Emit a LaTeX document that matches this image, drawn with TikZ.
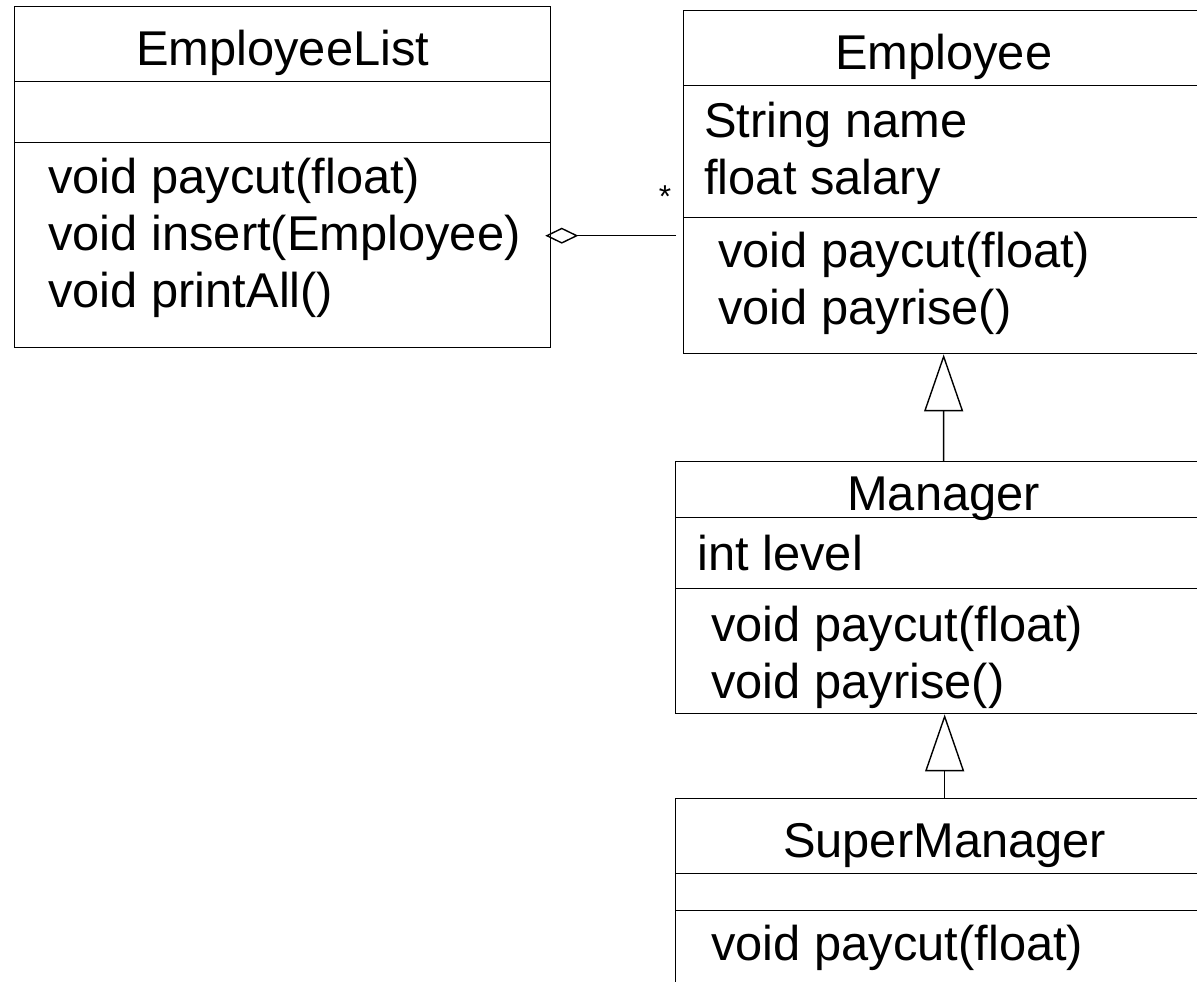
\documentclass[tikz,border=0pt]{standalone}
\usepackage{fontspec}
\setmainfont{Liberation Sans}
\usetikzlibrary{arrows.meta}

\newcommand{\umlfont}{\fontsize{27.8}{32.4}\selectfont}

\tikzset{
  classpart/.style={draw, line width=0.8pt, anchor=north west, inner sep=0pt, font=\umlfont},
  classname/.style={classpart, text height=24pt, text depth=0pt},
  members/.style={anchor=west, align=left, inner sep=0pt, font=\umlfont},
  aggr/.style={line width=0.8pt, -{Diamond[open, length=0.66cm, width=0.32cm]}},
  inherit/.style={line width=0.8pt, -{Triangle[open, length=1.14cm, width=0.78cm]}}
}

\begin{document}
\begin{tikzpicture}[x=0.02cm, y=-0.02cm]
\useasboundingbox (0,0) rectangle (1197,982);
\clip (0,0) rectangle (1197,982);

% EmployeeList
\node[classname, minimum width=10.72cm, minimum height=1.5cm] (listname) at (14,6) {EmployeeList};
\node[classpart, minimum width=10.72cm, minimum height=1.22cm] (listattr) at (14,81) {};
\node[classpart, minimum width=10.72cm, minimum height=4.1cm] (listops) at (14,142) {};
\node[members] (listopstext) at (48,238) {void paycut(float)\\void insert(Employee)\\void printAll()};

% Employee
\node[classname, minimum width=10.4cm, minimum height=1.5cm] (empname) at (683,10) {Employee};
\node[classpart, minimum width=10.4cm, minimum height=2.64cm] (empattr) at (683,85) {};
\node[classpart, minimum width=10.4cm, minimum height=2.72cm] (empops) at (683,217) {};
\node[members] (empattrtext) at (704,153) {String name\\float salary};
\node[members] (empopstext) at (718,283) {void paycut(float)\\void payrise()};

% Manager
\node[classname, minimum width=10.72cm, minimum height=1.12cm] (mgrname) at (675,461) {Manager};
\node[classpart, minimum width=10.72cm, minimum height=1.42cm] (mgrattr) at (675,517) {};
\node[classpart, minimum width=10.72cm, minimum height=2.5cm] (mgrops) at (675,588) {};
\node[members] (mgrattrtext) at (697,553) {int level};
\node[members] (mgropstext) at (711,657) {void paycut(float)\\void payrise()};

% SuperManager
\node[classname, minimum width=10.76cm, minimum height=1.5cm] (smname) at (675,798) {SuperManager};
\node[classpart, minimum width=10.76cm, minimum height=0.74cm] (smattr) at (675,873) {};
\node[classpart, minimum width=10.76cm, minimum height=1.8cm] (smops) at (675,910) {};
\node[members] (smopstext) at (711,948) {void paycut(float)};

% relations
\draw[aggr, shorten <=0.14cm, shorten >=-0.12cm] ([yshift=1cm]empops.west) -- ([yshift=1cm]empops.west -| listops.east);
\node[font=\fontsize{18}{20}\selectfont, inner sep=0pt] (many) at (665,197) {*};

\draw[inherit] (mgrname.north) -- (empops.south);
\draw[inherit] (smname.north) -- (smname.north |- mgrops.south);
\end{tikzpicture}
\end{document}
